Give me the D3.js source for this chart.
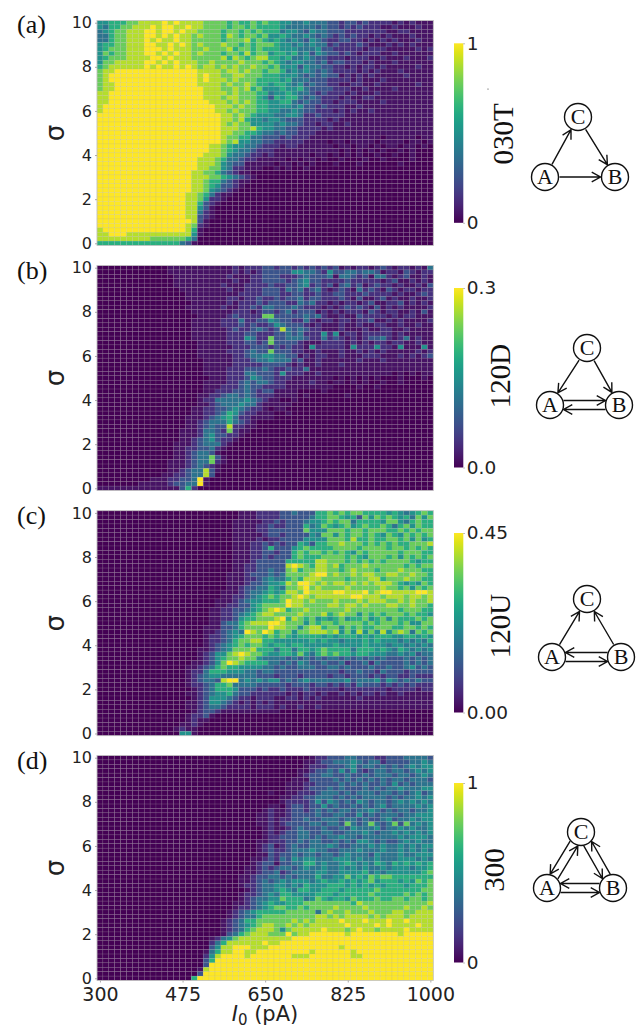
<!DOCTYPE html>
<html>
<head>
<meta charset="utf-8">
<script src="https://cdn.jsdelivr.net/npm/d3@7"></script>
<style>
  html, body { margin: 0; padding: 0; background: #fff; }
  svg { display: block; }
</style>
</head>
<body>
<div id="chart"></div>
<script>
// Each row is one sigma step, top (10) to bottom (0). Each digit is one current step,
// read off the picture as a level of levelValues. A short row repeats its last digit.
const levelValues = [0, 0.05, 0.14, 0.26, 0.38, 0.5, 0.63, 0.77, 0.89, 1];

const rows030T = [
"5566677888 8989888877 7767667676 6554454443 3233232222 1212111",
"5466778889 8998898877 7767767666 6544444343 3232322211 2111211",
"4567788899 8998988777 7677676766 6455435443 3322222221 1221111",
"4467788899 8989887877 7687677675 5654454343 2323221212 1112111",
"4467788898 9889887777 7677786765 6545435432 2332212121 2111211",
"5667788899 8898987877 7877676777 6554545442 3222321112 1212111",
"5677788899 9898887787 7786776766 6555444533 2222212221 1111212",
"5767788899 8989887877 7677686775 6656453543 3232122211 2111111",
"5677788889 9898887777 7868767886 6564454332 2212221121 1121112",
"5778888899 8989888778 7777877767 6545544342 3322212111 2111111",
"6788888898 9889898788 7878778776 7555354433 2212122121 1111211",
"7889999999 9999999888 8788787767 7645454343 2222121211 1211111",
"7899999999 9999999898 8778877766 6555434343 3121212111 1121111",
"7899999999 9999999898 8878777666 6564443332 2221211121 1111111",
"7889999999 9999999888 8787787665 6654534332 2112211211 1111211",
"7889999999 9999999988 8778786755 5655643333 2221121111 2111111",
"8899999999 9999999988 8878777664 5565443232 2212111211 1111111",
"8899999999 9999999988 8788777653 6566434322 2121122111 1111111",
"8899999999 9999999998 8878787665 5664343322 1222111121 1111111",
"8999999999 9999999999 8887877665 5554533232 2211211111 1111111",
"8999999999 9999999999 8878777665 5445433222 1212112111 1111111",
"9999999999 9999999999 9887876555 4455422322 2211111111 1111111",
"9999999999 9999999999 9887865545 5433322221 2111111111 1111111",
"9999999999 9999999999 9878775555 4544322122 1121111111 1111111",
"9999999999 9999999999 9888778655 4433222212 1111111111 1111111",
"9999999999 9999999999 9887766544 3433222111 1111111111 1111111",
"9999999999 9999999999 9877664433 3232221111 1111111101 1111011",
"9999999999 9999999999 9878554433 2222211110 1101111011 1101101",
"9999999999 9999999998 8765544322 2122111111 0110110101 1011010",
"9999999999 9999999998 8765443222 1111111111 1010101010 0101000",
"9999999999 9999999988 8754432212 1111110110 1010100100 1001000",
"9999999999 9999999888 7644322111 1101011010 0100010010 0001000",
"9999999999 9999999888 7543311111 0110101000 1000100000 0100000",
"9999999999 9999999887 7542211100 1010010000",
"9999999999 9999998877 6432110000",
"9999999999 9999998887 7654321000",
"9999999999 9999998876 6432110000",
"9999999999 9999998876 5332100000",
"9999999999 9999998875 4321000000",
"9999999999 9999988764 2110000000",
"9999999999 9999988752 2100000000",
"9999999999 9999988632 1000000000",
"9999999999 9999988531 0000000000",
"9999999999 9999988421 0000000000",
"9999999999 9999988321 0000000000",
"9999999999 9999998310",
"9999999999 9999987210",
"8999999999 9999986100",
"8899988888 8888885100",
"8888888887 7777764000",
"6666666666 6666431000"
];

const rows120D = [
"0000000000 0011111111 1112122233 2332323232 3121221232 1221214",
"0000000000 0011111111 1112121233 3335544325 3344344312 2132122",
"0000000000 0001111111 1121112233 3222343334 1443231442 1231121",
"0000000000 0001111111 1112112233 3323453322 2232222212 3112121",
"0000000000 0001111111 1211122223 2233452323 1342312322 1211213",
"0000000000 0000111111 1121122233 3243423421 2321423213 2122122",
"0000000000 0000011111 1111222233 3223322322 3322232222 1211232",
"0000000000 0000011111 1122122322 3233423322 2321311231 2112112",
"0000000000 0000001111 1121222323 3322434221 2122123112 2312121",
"0000000000 0000011111 1211223244 3334322212 1232321312 1211112",
"0000000000 0000001111 1112221233 2342333121 2122213212 2112131",
"0000000000 0000000111 1123222277 3333343421 1211322221 2122111",
"0000000000 0000001111 1222422335 4332242122 1221223112 1211112",
"0000000000 0000001111 1222323223 5433321211 1211211221 1211211",
"0000000000 0000001111 1123223432 3843432211 1211121122 1121111",
"0000000000 0000001111 1122233222 3343422252 5122122222 1211111",
"0000000000 0000001111 1122254227 3344432242 3212123342 1241211",
"0000000000 0000000111 1122233237 3333211122 2212121221 2211211",
"0000000000 0000000111 1112223332 3232215222 2215222522 1511151",
"0000000000 0000000111 1122234337 3332211211 1211212121 1111212",
"0000000000 0000000111 1112234455 4433121221 1211122211 1212123",
"0000000000 0000000011 1112223445 4442311211 1111211121 1111111",
"0000000000 0000000011 1112222233 3321211211 1211111111 1111111",
"0000000000 0000000011 1122233343 2232241111 1111111111 1111111",
"0000000000 0000000011 1122244333 2522211211 1111111111 0101011",
"0000000000 0000000001 1122235433 2221111111 0101010100 0100010",
"0000000000 0000000011 1122343443 2211112110 1101010010 0100000",
"0000000000 0000000011 1222343322 2211111111 0000100100 0000000",
"0000000000 0000000011 2223343233 1111000010 0000000000",
"0000000000 0000000112 2344343222 1111010000 0010000",
"0000000000 0000000122 4444454321 1001000000",
"0000000000 0000000112 3444544211 1110000",
"0000000000 0000001122 3345432210 1100",
"0000000000 0000001122 3465322111 0010",
"0000000000 0000011123 4564221111 000",
"0000000000 0000011234 4464321000",
"0000000000 0000011234 3382211000",
"0000000000 0000111244 3272110000",
"0000000000 0000111245 3322100000",
"0000000000 0000112345 3221000000",
"0000000000 0001112344 4210",
"0000000000 0001122334 2100",
"0000000000 0001123443 1000",
"0000000000 0001123447 3100",
"0000000000 0011123447 2100",
"0000000000 0011123432 1000",
"0000000000 0011234483 1000",
"0000000000 0112234483 0",
"0000000001 1122334910",
"0000000111 1123344910",
"1111111111 1111362000"
];

const rows120U = [
"0000000000 0000000000 0000111222 2334333667 6767766665 6545676",
"0000000000 0000000000 0000111222 2333334667 7656375767 6564757",
"0000000000 0000000000 0001111122 3233345567 6774666657 7546766",
"0000000000 0000000000 0001111223 2233364576 5675676676 4675766",
"0000000000 0000000000 0001111223 3333375557 7767767776 6767677",
"0000000000 0000000000 0001111123 3233335477 5767767657 6576767",
"0000000000 0000000000 0001111212 2333355557 7768667667 7675756",
"0000000000 0000000000 0001112232 3233653667 7877767676 7667778",
"0000000000 0000000000 0001112236 3335676666 7777677776 7767676",
"0000000000 0000000000 0001112233 2336767767 6765767777 7677766",
"0000000000 0000000000 0001112232 3336766677 7767657776 7576767",
"0000000000 0000000000 0001112333 3366666887 7767676767 7776566",
"0000000000 0000000000 0001122333 3389876887 8677787777 7767677",
"0000000000 0000000000 0001122334 3378677887 7678777677 7877766",
"0000000000 0000000000 0011123334 3477778997 8778788778 8778776",
"0000000000 0000000000 0011122345 4467688877 7767778867 7787766",
"0000000000 0000000000 0011123345 5687998787 8878787888 7656576",
"0000000000 0000000000 0011233446 5477897877 7787777787 7675767",
"0000000000 0000000000 0111234456 5688798888 9988897899 8888998",
"0000000000 0000000000 0112234567 6778987888 8889988878 8878878",
"0000000000 0000000000 1112345566 6798878777 8777878887 7878778",
"0000000000 0000000000 1122335677 7798877778 8788787778 8778776",
"0000000000 0000000001 1223345678 9867787777 7787777777 7677766",
"0000000000 0000000001 1223456788 7777877786 7877576767 7767665",
"0000000000 0000000001 1223566777 8968767565 6756675675 7666767",
"0000000000 0000000001 1344678889 9877757677 6777767677 7675577",
"0000000000 0000000011 1334677779 8877578867 7576766777 6677676",
"0000000000 0000000011 2345498798 6775778887 8575857585 7874767",
"0000000000 0000000012 2345677767 6765666656 5666565666 5566565",
"0000000000 0000000012 2346778866 5555556565 5455565655 5454546",
"0000000000 0000000012 3456767765 6656655555 6555565554 5545454",
"0000000000 0000000112 3457778666 4664665676 6664666565 4654545",
"0000000000 0000000123 5578987765 5665754676 7665665554 4545344",
"0000000000 0000000123 5677877544 4434343434 4343434343 3343434",
"0000000000 0000001123 5798766664 4343543343 3423342433 3343434",
"0000000000 0000011234 6766555544 3433444334 4343334334 3345343",
"0000000000 0000012246 6655544344 3333333333 3233433243 3323333",
"0000000000 0000012345 5444444333 2333233332 3323332323 3223222",
"0000000000 0000012344 3899454545 5343454444 4453444535 4343433",
"0000000000 0000012234 6674444333 3323332332 3232433323 2323222",
"0000000000 0000001234 6665333232 2322232222 2122222221 2222122",
"0000000000 0000011234 5564332222 2212122121 1212122121 1211111",
"0000000000 0000001235 5543221222 1122121211 1111211111 1111111",
"0000000000 0000011235 5432121212 1111111111 1111111111 1111111",
"0000000000 0000011234 4322221222 1211211211 1111111111 1111111",
"0000000000 0000001233 2111111111 1000000000 0000",
"0000000000 0000012231 0",
"0000000000 0000012110 0",
"0000000000 0000112100",
"0000000000 0001211000",
"0000000000 0000551000"
];

const rows300 = [
"0000000000 0000000000 0000000000 0000001223 3344333223 3344443",
"0000000000 0000000000 0000000000 0000011233 4445434423 3334454",
"0000000000 0000000000 0000000000 0000012223 3345344343 4345455",
"0000000000 0000000000 0000000000 0000112334 3535323443 4434545",
"0000000000 0000000000 0000000000 0000123344 3343343444 3443454",
"0000000000 0000000000 0000000000 0001113333 4343434343 4434443",
"0000000000 0000000000 0000000000 0011122333 3434343343 5343444",
"0000000000 0000000000 0000000000 0011123334 3433343434 4544455",
"0000000000 0000000000 0000000001 0011222344 4343444344 3434534",
"0000000000 0000000000 0000000000 0112233444 3434344443 4344545",
"0000000000 0000000000 0000000000 0122223535 4343543443 4545454",
"0000000000 0000000000 0000000001 1023323353 4334343453 4444545",
"0000000000 0000000000 0000000012 1123323434 3443445434 3443445",
"0000000000 0000000000 0000000112 1123333433 4433534344 4344555",
"0000000000 0000000000 0000000112 1223343344 4344343345 3445455",
"0000000000 0000000000 0000000112 1233334434 4374347434 7374545",
"0000000000 0000000000 0000000012 1123433343 3435444534 4545445",
"0000000000 0000000000 0000000012 1233443344 3344454344 5454545",
"0000000000 0000000000 0000000012 2333443434 4544344444 4545554",
"0000000000 0000000000 0000000112 2233434433 4343554343 3454544",
"0000000000 0000000000 0000000123 1234334445 4334445454 4545455",
"0000000000 0000000000 0000000123 2234445443 3444544454 4545454",
"0000000000 0000000000 0000000113 2334344344 3454443544 4544555",
"0000000000 0000000000 0000001123 2435455444 5554544544 4555454",
"0000000000 0000000000 0000001233 1334466454 4565454654 6565656",
"0000000000 0000000000 0000011232 3443454454 4545454454 5554556",
"0000000000 0000000000 0000011233 4234444554 4555564545 5555567",
"0000000000 0000000000 0000112334 4343444644 5575657677 6666666",
"0000000000 0000000000 0000112343 4545554565 5656567566 6565767",
"0000000000 0000000000 0000122344 5545465556 6656565656 6656667",
"0000000000 0000000000 0000012344 5654665566 6566666766 6666677",
"0000000000 0000000000 0000122345 4665555666 5666667666 6676767",
"0000000000 0000000000 0000123445 5766645765 6657666766 7767767",
"0000000000 0000000000 0001123456 5566677777 7776877777 7777778",
"0000000000 0000000000 0001223456 7766767777 8777787777 7787787",
"0000000000 0000000000 0012345666 6677777478 7787778777 8877888",
"0000000000 0000000000 0012344677 7777777887 8788887878 8878888",
"0000000000 0000000000 0123466777 7778787888 8988898889 8898888",
"0000000000 0000000000 0123456788 7787878888 8898888989 8888988",
"0000000000 0000000000 0123467888 7578888898 8878988788 8898888",
"0000000000 0000000000 0134678887 7797889999 9989999999 9899999",
"0000000000 0000000001 2457888888 8889999999",
"0000000000 0000000002 4688888898 8999999999",
"0000000000 0000000003 5889998889 9999999999 9899999999",
"0000000000 0000000014 6889988999 9999998999 9998999999",
"0000000000 0000000025 8999989999 9998889999 9998899999",
"0000000000 0000000036 9999999999",
"0000000000 0000000039 9999999999",
"0000000000 0000000189 9999999999",
"0000000000 0000000399 9999999999",
"0000000000 0000006999 9999999999"
];

const panelRows = [rows030T, rows120D, rows120U, rows300];
const panelLetters = ["(a)", "(b)", "(c)", "(d)"];
const motifNames = ["030T", "120D", "120U", "300"];
const colorMaxLabels = [["1", "0"], ["0.3", "0.0"], ["0.45", "0.00"], ["1", "0"]];
const currentTicks = [300, 475, 650, 825, 1000];
const sigmaTicks = [0, 2, 4, 6, 8, 10];

// from, to, which side of the line its double partner sits on
const motifEdges = [
  [["A", "C", 0], ["C", "B", 0], ["A", "B", 0]],
  [["C", "A", 0], ["C", "B", 0], ["A", "B", -1], ["B", "A", -1]],
  [["A", "C", 0], ["B", "C", 0], ["A", "B", 1], ["B", "A", 1]],
  [["A", "C", 1], ["C", "A", 1], ["C", "B", 1], ["B", "C", 1], ["A", "B", 1], ["B", "A", 1]]
];

/* LAYOUT */

const width = 639, height = 1027;
const numCols = 57, numRows = 51;
const plotLeft = 97, plotRight = 433.3, plotHeight = 225;
const plotTops = [20.5, 265.5, 510.7, 755.5];
const barTops = [43.3, 288, 533, 783], barHeight = 179.5;
const barLeft = 454, barWidth = 9.3;
const nameY = [134, 376, 626, 870], nameX = [503, 500, 500, 494];
const letterY = [33, 279, 524, 769];
const motifNodes = [
  { A: [545, 177], B: [615, 177], C: [578, 117] },
  { A: [550, 405], B: [619, 405], C: [587, 348] },
  { A: [552, 657], B: [621, 657], C: [587, 599] },
  { A: [547, 888], B: [613, 888], C: [581, 832] }
];
const nodeRadius = 13.5;

const sans = "'DejaVu Sans', sans-serif";
const serif = "'Liberation Serif', serif";

const svg = d3.select("#chart").append("svg")
  .attr("width", width)
  .attr("height", height);

const defs = svg.append("defs");
const gradient = defs.append("linearGradient")
  .attr("id", "viridis-bar")
  .attr("x1", 0).attr("x2", 0).attr("y1", 1).attr("y2", 0);
d3.range(0, 1.001, 0.05).forEach(t => {
  gradient.append("stop")
    .attr("offset", t)
    .attr("stop-color", d3.interpolateViridis(t));
});

/* PANELS */

panelRows.forEach((rows, p) => {
  const top = plotTops[p];
  const colBand = d3.scaleBand().domain(d3.range(numCols)).range([plotLeft, plotRight]);
  const rowBand = d3.scaleBand().domain(d3.range(numRows)).range([top, top + plotHeight]);
  const color = d3.scaleSequential(d3.interpolateViridis).domain([0, 1]);

  // ticks land on the middle of the first and last cells
  const x = d3.scaleLinear().domain([300, 1000])
    .range([plotLeft + colBand.bandwidth() / 2, plotRight - colBand.bandwidth() / 2]);
  const y = d3.scaleLinear().domain([0, 10])
    .range([top + plotHeight - rowBand.bandwidth() / 2, top + rowBand.bandwidth() / 2]);

  const cells = rows.flatMap((row, r) => {
    const digits = row.replace(/ /g, "");
    const full = digits.padEnd(numCols, digits[digits.length - 1]).slice(0, numCols);
    return Array.from(full, (ch, c) => ({ r, c, value: levelValues[+ch] }));
  });

  svg.append("g").selectAll("rect")
    .data(cells)
    .join("rect")
    .attr("x", d => colBand(d.c))
    .attr("y", d => rowBand(d.r))
    .attr("width", colBand.bandwidth())
    .attr("height", rowBand.bandwidth())
    .attr("fill", d => color(d.value))
    .attr("stroke", "rgba(170,170,170,0.3)")
    .attr("stroke-width", 0.5);

  svg.append("rect")
    .attr("x", plotLeft).attr("y", top)
    .attr("width", plotRight - plotLeft).attr("height", plotHeight)
    .attr("fill", "none").attr("stroke", "#c4c4c4").attr("stroke-width", 0.8);

  const yAxis = svg.append("g")
    .attr("transform", `translate(${plotLeft},0)`)
    .call(d3.axisLeft(y).tickValues(sigmaTicks).tickSize(2).tickPadding(3));
  yAxis.select(".domain").remove();
  yAxis.selectAll("line").attr("stroke", "#aaa");
  yAxis.selectAll("text").attr("font-family", sans).attr("font-size", 16).attr("fill", "#222");

  svg.append("text")
    .attr("transform", `translate(64,${top + plotHeight / 2}) rotate(-90)`)
    .attr("text-anchor", "middle")
    .attr("font-family", sans)
    .attr("font-size", 26)
    .attr("fill", "#222")
    .text("σ");

  svg.append("text")
    .attr("x", 17).attr("y", letterY[p])
    .attr("font-family", serif)
    .attr("font-size", 26)
    .attr("fill", "#111")
    .text(panelLetters[p]);

  if (p === 3) {
    const xAxis = svg.append("g")
      .attr("transform", `translate(0,${top + plotHeight})`)
      .call(d3.axisBottom(x).tickValues(currentTicks).tickSize(2).tickPadding(5).tickFormat(d3.format("d")));
    xAxis.select(".domain").remove();
    xAxis.selectAll("line").attr("stroke", "#aaa");
    xAxis.selectAll("text").attr("font-family", sans).attr("font-size", 19).attr("fill", "#222");

    const label = svg.append("text")
      .attr("x", 265).attr("y", 1021)
      .attr("text-anchor", "middle")
      .attr("font-family", sans)
      .attr("font-size", 21)
      .attr("fill", "#222");
    label.append("tspan").attr("font-style", "italic").text("I");
    label.append("tspan").attr("dy", 4).attr("font-size", 15).text("0");
    label.append("tspan").attr("dy", -4).text(" (pA)");
  }

  /* COLOUR BAR */

  const barTop = barTops[p];
  svg.append("rect")
    .attr("x", barLeft).attr("y", barTop)
    .attr("width", barWidth).attr("height", barHeight)
    .attr("fill", "url(#viridis-bar)");

  const barScale = d3.scalePoint().domain(colorMaxLabels[p]).range([barTop, barTop + barHeight]);
  const barAxis = svg.append("g")
    .attr("transform", `translate(${barLeft + barWidth},0)`)
    .call(d3.axisRight(barScale).tickSize(1.5).tickPadding(2));
  barAxis.select(".domain").remove();
  barAxis.selectAll("line").attr("stroke", "#aaa");
  barAxis.selectAll("text").attr("font-family", sans).attr("font-size", 18.5).attr("fill", "#222");

  svg.append("text")
    .attr("transform", `translate(${nameX[p] + 10},${nameY[p]}) rotate(-90)`)
    .attr("text-anchor", "middle")
    .attr("font-family", serif)
    .attr("font-size", 29)
    .attr("fill", "#111")
    .text(motifNames[p]);

  drawMotif(motifNodes[p], motifEdges[p]);
});

// stray speck next to the top colour bar in the original
svg.append("circle").attr("cx", 488).attr("cy", 89).attr("r", 0.6).attr("fill", "#333");

/* MOTIF DIAGRAMS */

function drawMotif(nodes, edges) {
  const g = svg.append("g");
  const gap = 4.5;
  const headLen = 10, headAngle = 0.5;

  edges.forEach(([from, to, side]) => {
    const [x1, y1] = nodes[from];
    const [x2, y2] = nodes[to];
    const len = Math.hypot(x2 - x1, y2 - y1);
    const ux = (x2 - x1) / len, uy = (y2 - y1) / len;
    // perpendicular to travel direction
    const ox = -uy * side * gap, oy = ux * side * gap;
    const trim = nodeRadius + (side ? 0 : 1);
    const sx = x1 + ux * trim + ox, sy = y1 + uy * trim + oy;
    const ex = x2 - ux * trim + ox, ey = y2 - uy * trim + oy;
    const angle = Math.atan2(uy, ux);
    const wing = a => [ex - headLen * Math.cos(angle + a), ey - headLen * Math.sin(angle + a)];
    const path = d3.path();
    path.moveTo(sx, sy);
    path.lineTo(ex, ey);
    path.moveTo(...wing(headAngle));
    path.lineTo(ex, ey);
    path.lineTo(...wing(-headAngle));
    g.append("path")
      .attr("d", path.toString())
      .attr("fill", "none")
      .attr("stroke", "#111")
      .attr("stroke-width", 1.4);
  });

  Object.entries(nodes).forEach(([name, [cx, cy]]) => {
    g.append("circle")
      .attr("cx", cx).attr("cy", cy).attr("r", nodeRadius)
      .attr("fill", "#fff").attr("stroke", "#111").attr("stroke-width", 1.4);
    g.append("text")
      .attr("x", cx).attr("y", cy + 7)
      .attr("text-anchor", "middle")
      .attr("font-family", serif)
      .attr("font-size", 22)
      .attr("fill", "#111")
      .text(name);
  });
}
</script>
</body>
</html>
